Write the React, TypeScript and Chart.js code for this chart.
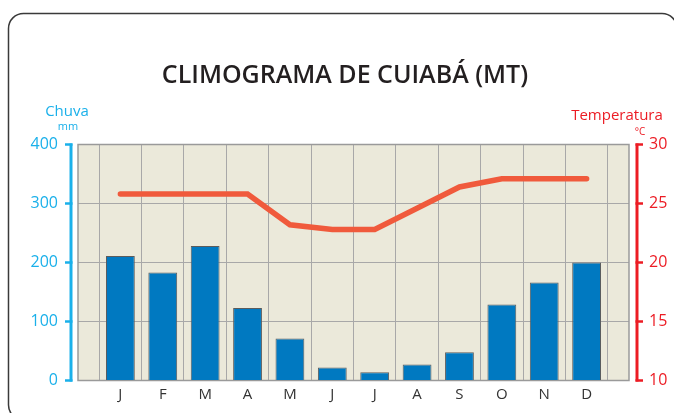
import React, { useEffect, useRef } from 'react';
import { Chart, registerables } from 'chart.js';

Chart.register(...registerables);

const TITLE = 'CLIMOGRAMA DE CUIABÁ (MT)';
const MONTHS = ['J', 'F', 'M', 'A', 'M', 'J', 'J', 'A', 'S', 'O', 'N', 'D'];
const RAIN_MM = [211, 183, 228, 123, 71, 22, 14, 27, 48, 129, 166, 200];
const TEMP_C = [25.8, 25.8, 25.8, 25.8, 23.2, 22.8, 22.8, 24.6, 26.4, 27.1, 27.1, 27.1];
const RAIN_TICKS = [0, 100, 200, 300, 400];
const TEMP_TICKS = [10, 15, 20, 25, 30];

const FONT = '"Open Sans", "DejaVu Sans", sans-serif';
const BLUE_AXIS = '#1ab0ea';
const RED_AXIS = '#ec1c24';
const PLOT_BG = '#ebe9da';
const GRID = '#a8a8a8';

const decorPlugin = {
  id: 'decor',
  beforeDraw(chart: any) {
    const { ctx, chartArea } = chart;
    ctx.save();
    // card
    const x0 = 8.5, y0 = 13.5, x1 = 677, y1 = 420, r = 15;
    ctx.beginPath();
    ctx.moveTo(x0 + r, y0);
    ctx.lineTo(x1 - r, y0);
    ctx.arcTo(x1, y0, x1, y0 + r, r);
    ctx.lineTo(x1, y1 - r);
    ctx.arcTo(x1, y1, x1 - r, y1, r);
    ctx.lineTo(x0 + r, y1);
    ctx.arcTo(x0, y1, x0, y1 - r, r);
    ctx.lineTo(x0, y0 + r);
    ctx.arcTo(x0, y0, x0 + r, y0, r);
    ctx.closePath();
    ctx.fillStyle = '#ffffff';
    ctx.fill();
    ctx.lineWidth = 1.5;
    ctx.strokeStyle = '#3a3a3a';
    ctx.stroke();

    // plot background
    ctx.fillStyle = PLOT_BG;
    ctx.fillRect(chartArea.left, chartArea.top, chartArea.right - chartArea.left, chartArea.bottom - chartArea.top);

    // title
    ctx.fillStyle = '#231f20';
    ctx.textAlign = 'center';
    ctx.textBaseline = 'alphabetic';
    ctx.font = `600 25px ${FONT}`;
    ctx.fillText(TITLE, 345, 83);

    // axis titles
    ctx.fillStyle = BLUE_AXIS;
    ctx.font = `15px ${FONT}`;
    ctx.fillText('Chuva', 67, 116);
    ctx.font = `11px ${FONT}`;
    ctx.fillText('mm', 68, 130);

    ctx.fillStyle = RED_AXIS;
    ctx.font = `15px ${FONT}`;
    ctx.fillText('Temperatura', 617, 120);
    ctx.font = `10px ${FONT}`;
    ctx.fillText('°C', 640, 135);
    ctx.restore();
  },
  beforeDatasetsDraw(chart: any) {
    const { ctx, chartArea } = chart;
    ctx.save();
    ctx.strokeStyle = '#9a9a9a';
    ctx.lineWidth = 1.5;
    ctx.strokeRect(chartArea.left, chartArea.top, chartArea.right - chartArea.left, chartArea.bottom - chartArea.top);
    ctx.restore();
  },
  afterDraw(chart: any) {
    const { ctx } = chart;
    const yL = chart.scales.y;
    const yR = chart.scales.y1;
    ctx.save();
    ctx.lineCap = 'butt';
    // left axis
    ctx.strokeStyle = BLUE_AXIS;
    ctx.lineWidth = 3;
    const lx = 71;
    const lTop = yL.getPixelForValue(RAIN_TICKS[RAIN_TICKS.length - 1]);
    const lBot = yL.getPixelForValue(RAIN_TICKS[0]);
    ctx.beginPath();
    ctx.moveTo(lx, lTop - 1);
    ctx.lineTo(lx, lBot + 1);
    ctx.stroke();
    ctx.lineWidth = 2.5;
    RAIN_TICKS.forEach((t) => {
      const py = yL.getPixelForValue(t);
      ctx.beginPath();
      ctx.moveTo(lx + 1.5, py);
      ctx.lineTo(lx - 6, py);
      ctx.stroke();
    });
    // right axis
    ctx.strokeStyle = RED_AXIS;
    ctx.lineWidth = 3;
    const rx = 637;
    const rTop = yR.getPixelForValue(TEMP_TICKS[TEMP_TICKS.length - 1]);
    const rBot = yR.getPixelForValue(TEMP_TICKS[0]);
    ctx.beginPath();
    ctx.moveTo(rx, rTop - 1);
    ctx.lineTo(rx, rBot + 1);
    ctx.stroke();
    ctx.lineWidth = 2.5;
    TEMP_TICKS.forEach((t) => {
      const py = yR.getPixelForValue(t);
      ctx.beginPath();
      ctx.moveTo(rx - 1.5, py);
      ctx.lineTo(rx + 6, py);
      ctx.stroke();
    });
    ctx.restore();
  },
};

export default function App() {
  const ref = useRef<HTMLCanvasElement | null>(null);

  useEffect(() => {
    if (!ref.current) return;
    const labels = ['', ...MONTHS, ''];
    const chart = new Chart(ref.current, {
      data: {
        labels,
        datasets: [
          {
            type: 'line',
            label: 'Temperatura',
            data: [null, ...TEMP_C, null],
            yAxisID: 'y1',
            borderColor: '#f05a3c',
            borderWidth: 5.5,
            pointRadius: 0,
            tension: 0,
            borderCapStyle: 'round',
            borderJoinStyle: 'miter',
            order: 0,
          },
          {
            type: 'bar',
            label: 'Chuva',
            data: [null, ...RAIN_MM, null],
            yAxisID: 'y',
            backgroundColor: '#0079c1',
            borderColor: '#5c5c5c',
            borderWidth: 1,
            categoryPercentage: 1,
            barPercentage: 0.68,
            order: 1,
          },
        ],
      } as any,
      options: {
        responsive: false,
        animation: false,
        devicePixelRatio: 1,
        layout: { padding: { top: 144.5, left: 0, right: 0, bottom: 0 } },
        plugins: {
          legend: { display: false },
          tooltip: { enabled: false },
          title: { display: false },
        },
        scales: {
          x: {
            type: 'category',
            offset: false,
            grid: { color: GRID, lineWidth: 1, drawTicks: false },
            border: { display: false },
            ticks: {
              color: '#333333',
              padding: 5,
              autoSkip: false,
              maxRotation: 0,
              font: { family: FONT, size: 15 },
            },
            afterFit: (s: any) => {
              s.height = 32.5;
            },
          },
          y: {
            position: 'left',
            min: 0,
            max: 400,
            ticks: {
              stepSize: 100,
              color: BLUE_AXIS,
              padding: 20,
              font: { family: FONT, size: 16 },
            },
            grid: { color: GRID, lineWidth: 1, drawTicks: false },
            border: { display: false },
            afterFit: (s: any) => {
              s.width = 78;
            },
          },
          y1: {
            position: 'right',
            min: 10,
            max: 30,
            ticks: {
              stepSize: 5,
              color: RED_AXIS,
              padding: 20,
              font: { family: FONT, size: 16 },
            },
            grid: { drawOnChartArea: false, drawTicks: false },
            border: { display: false },
            afterFit: (s: any) => {
              s.width = 45;
            },
          },
        },
      } as any,
      plugins: [decorPlugin],
    });
    return () => chart.destroy();
  }, []);

  return (
    <canvas
      ref={ref}
      width={674}
      height={413}
      style={{ position: 'fixed', left: 0, top: 0, width: 674, height: 413 }}
    />
  );
}
